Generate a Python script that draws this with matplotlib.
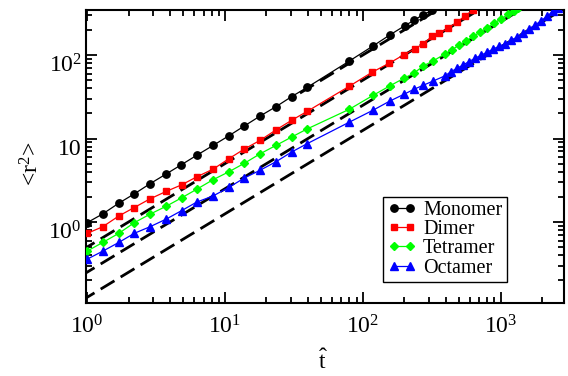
import matplotlib
matplotlib.use("Agg")
import matplotlib.pyplot as plt
import matplotlib.transforms as mtransforms
from matplotlib.ticker import FixedLocator, FixedFormatter, LogLocator, NullFormatter
import numpy as np

# ---- data (t-hat, <r^2>) ----
mono_t = [1.0, 1.30, 1.70, 2.20, 2.86, 3.72, 4.84, 6.28, 8.24, 10.7, 13.8, 18.0,
          23.5, 30.5, 39.6, 79.8, 119, 157, 202, 236, 272, 316]
mono_r2 = [0.98, 1.25, 1.68, 2.17, 2.87, 3.73, 4.86, 6.33, 8.30, 10.8, 14.1, 18.6,
           24.1, 31.8, 41.1, 84.7, 129, 174, 225, 262, 303, 342]

dimer_t = [1.0, 1.30, 1.70, 2.20, 2.86, 3.74, 4.86, 6.28, 8.24, 10.7, 13.8, 18.0,
           23.5, 30.4, 39.4, 79.8, 117, 156, 199, 237, 273, 318, 359, 417, 480,
           551, 633]
dimer_r2 = [0.73, 0.877, 1.18, 1.49, 1.89, 2.32, 2.79, 3.49, 4.31, 5.74, 7.47, 9.51,
            12.7, 16.5, 21.1, 42.3, 62.4, 80.1, 101, 118, 136, 167, 183, 210, 248,
            293, 351]

tetra_t = [1.0, 1.30, 1.70, 2.20, 2.86, 3.74, 4.86, 6.28, 8.20, 10.7, 13.8, 18.0,
           23.5, 30.4, 39.4, 79.8, 119, 157, 199, 235, 275, 325, 394, 443, 499,
           560, 630, 708, 796, 894, 1005, 1130, 1250, 1340]
tetra_r2 = [0.447, 0.569, 0.731, 0.98, 1.24, 1.54, 1.95, 2.48, 3.21, 4.00, 5.04,
            6.56, 8.28, 10.4, 13.0, 22.4, 33.0, 42.7, 52.8, 60.7, 74.3, 85.4, 103,
            116, 131, 148, 167, 188, 213, 240, 271, 306, 339, 365]

octa_t = [1.0, 1.30, 1.70, 2.20, 2.86, 3.74, 4.86, 6.24, 8.20, 10.7, 13.8, 18.0,
          23.5, 30.4, 39.4, 79.8, 119, 157, 199, 235, 275, 325, 394, 436, 482,
          533, 589, 651, 720, 796, 880, 972, 1075, 1188, 1313, 1452, 1604, 1774,
          1960, 2167, 2395, 2605]
octa_r2 = [0.358, 0.447, 0.569, 0.731, 0.877, 1.08, 1.37, 1.73, 2.05, 2.60, 3.36,
           4.17, 5.28, 6.88, 8.66, 15.7, 21.9, 28.1, 33.9, 38.9, 43.5, 49.0, 56.3,
           63.3, 69.3, 76.0, 83.5, 91.5, 99.5, 108, 118, 127, 136, 150, 164, 182,
           204, 229, 257, 291, 335, 368]

# diffusive fits <r^2> = D t, D = 1/N
fit_D = [1.0, 0.5, 0.25, 0.125]
fit_tmin = [35, 0.9, 0.9, 0.9]
fit_tmax = [400, 3000, 3000, 3000]

series = [
    ("Monomer", mono_t, mono_r2, "black", "o"),
    ("Dimer", dimer_t, dimer_r2, "#ff0000", "s"),
    ("Tetramer", tetra_t, tetra_r2, "#00ff00", "D"),
    ("Octamer", octa_t, octa_r2, "#0000ff", "^"),
]
msizes = {"o": 5.3, "s": 5.0, "D": 4.0, "^": 5.6}

plt.rcParams["font.family"] = ["Liberation Serif", "DejaVu Serif"]
plt.rcParams["mathtext.fontset"] = "custom"
plt.rcParams["mathtext.rm"] = "Liberation Serif"
plt.rcParams["mathtext.it"] = "Liberation Serif:italic"
plt.rcParams["mathtext.bf"] = "Liberation Serif:bold"

fig = plt.figure(figsize=(5.68, 3.76), dpi=100)
ax = fig.add_axes([0.1514, 0.1941, 0.8416, 0.7806])

for D, t0, t1 in zip(fit_D, fit_tmin, fit_tmax):
    tt = np.array([t0, t1])
    ax.plot(tt, D * tt, color="black", lw=2.0, dashes=(5.8, 2.6), zorder=2)

for name, t, r2, col, mk in series:
    ax.plot(t, r2, color=col, marker=mk, ms=msizes[mk], lw=0.9,
            mec=col, mfc=col, label=name, zorder=3)

ax.set_xscale("log")
ax.set_yscale("log")
ax.set_xlim(0.983, 2877)
ax.set_ylim(0.107, 351)

ax.xaxis.set_major_locator(FixedLocator([1, 10, 100, 1000]))
ax.xaxis.set_major_formatter(FixedFormatter(["$10^{0}$", "$10^{1}$", "$10^{2}$", "$10^{3}$"]))
ax.yaxis.set_major_locator(FixedLocator([1, 10, 100]))
ax.yaxis.set_major_formatter(FixedFormatter(["$10^{0}$", "10", "$10^{2}$"]))
for axis in (ax.xaxis, ax.yaxis):
    axis.set_minor_locator(LogLocator(base=10, subs=np.arange(2, 10), numticks=20))
    axis.set_minor_formatter(NullFormatter())

ax.tick_params(which="both", direction="in", top=True, right=True, width=1.3,
               labelsize=17)
ax.tick_params(which="major", length=8)
ax.tick_params(which="minor", length=4.5)
ax.tick_params(axis="x", which="major", pad=9)
ax.tick_params(axis="y", which="major", pad=3)
for s in ax.spines.values():
    s.set_linewidth(1.5)

# grace puts the y labels a bit below their ticks
shift = mtransforms.ScaledTranslation(0, -8 / 100, fig.dpi_scale_trans)
for tick in ax.yaxis.get_major_ticks():
    tick.label1.set_transform(tick.label1.get_transform() + shift)

ax.set_ylabel("<r$^{2}$>", fontsize=17)
ax.yaxis.set_label_coords(-0.088, 0.475)
ax.set_xlabel(r"$\hat{\mathrm{t}}$", fontsize=17)
ax.xaxis.set_label_coords(0.496, -0.16)

leg = ax.legend(loc="upper left", bbox_to_anchor=(0.622, 0.362), fontsize=14.5,
                numpoints=2, handlelength=1.4, handletextpad=0.35,
                labelspacing=0.0, borderpad=0.22, borderaxespad=0.0,
                fancybox=False, framealpha=1, edgecolor="black")
leg.get_frame().set_linewidth(1.0)

fig.savefig("out.png", dpi=100)
